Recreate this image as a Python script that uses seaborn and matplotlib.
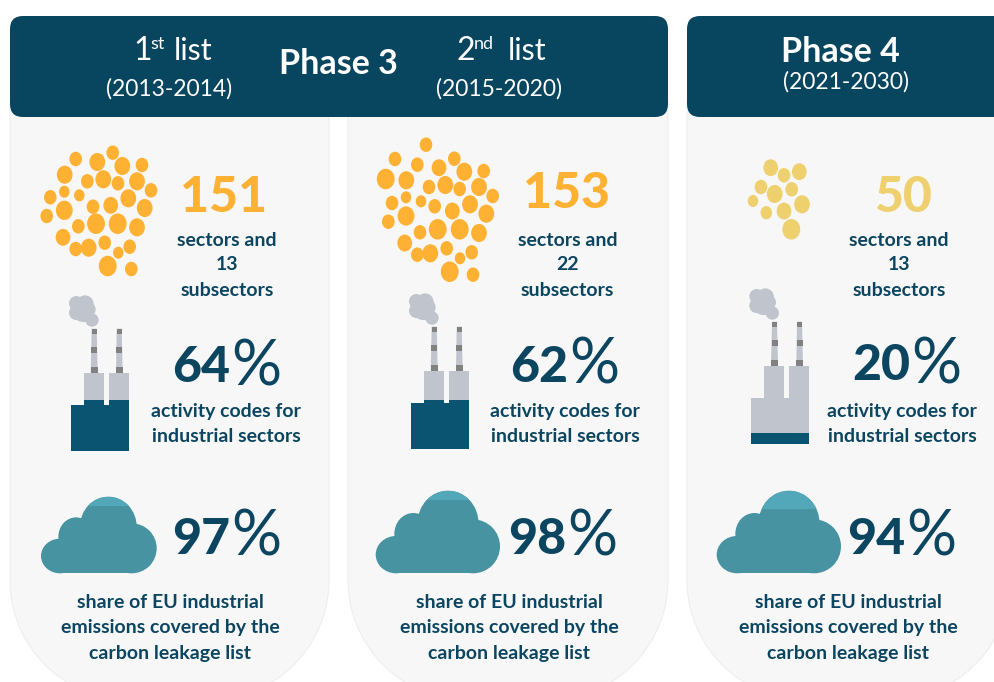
import numpy as np
import pandas as pd
import matplotlib
matplotlib.use("Agg")
import matplotlib.pyplot as plt
import seaborn as sns
from matplotlib.patches import Ellipse, FancyBboxPatch, Polygon, Rectangle
from matplotlib.path import Path
from matplotlib.transforms import Affine2D

# values shown in the three columns
sector_counts = ["151", "153", "50"]
subsector_counts = ["13", "22", "13"]
activity_shares = ["64", "62", "20"]
emission_shares = ["97", "98", "94"]

# how far the icons are filled (fraction of icon height from the bottom / top)
factory_fill = [0.65, 0.63, 0.14]
cloud_light = [0.122, 0.113, 0.226]

# bubble clusters: x, y, width
bubbles_1 = [
    (112.7, 152.7, 12), (75.7, 159, 12), (97.3, 162, 15), (122.3, 166, 15), (142, 165, 12),
    (64.7, 174.7, 15), (87.3, 181.3, 12), (103.3, 179.3, 15), (118, 183.3, 12), (137, 181.3, 15),
    (151, 190.3, 12), (50.3, 197.3, 12), (64.3, 191.7, 10), (79.3, 195.3, 10), (128.3, 198.3, 15),
    (93, 206.7, 12), (110.7, 205.3, 14), (144.7, 208, 15), (64.3, 210.3, 16), (46.7, 216, 12),
    (78.3, 226.3, 12), (96, 223.7, 17), (117.7, 223.7, 17), (137, 227.3, 15), (63, 237.3, 14),
    (75.7, 249, 12), (88.7, 247.7, 15), (104.7, 242.7, 12), (129.7, 246.7, 12), (118.3, 252.7, 10),
    (107.7, 266, 17), (131.3, 269, 12),
]
bubbles_2 = [
    (426, 144.7, 12), (395, 159, 12), (454.3, 158.7, 12), (417.3, 164.7, 12), (439, 167.7, 14),
    (464.3, 171.7, 15), (483.7, 171, 12), (385.7, 179, 17), (406.3, 180.3, 15), (429, 187, 12),
    (445.3, 185, 15), (459.7, 189, 12), (479, 187, 15), (492.7, 196, 12), (392, 203, 12),
    (406, 197.3, 10), (421, 201.3, 10), (470, 204.3, 15), (434.7, 206.3, 12), (452.3, 211, 14),
    (486.3, 213.7, 15), (406, 216, 16), (388.3, 221.7, 12), (420, 232.3, 12), (437.7, 229.3, 17),
    (459.7, 229.3, 17), (479, 233, 15), (404.7, 243, 14), (417.3, 254.7, 12), (430.3, 253.3, 15),
    (446.7, 248.3, 12), (471.7, 252.3, 12), (460, 258.3, 10), (449.7, 271.7, 17), (473, 274.7, 12),
]
bubbles_3 = [
    (770.7, 167.7, 14), (784, 175.3, 12), (799.3, 171.7, 14), (761, 187, 12), (774.7, 194, 15),
    (791.7, 189.3, 12), (753, 201, 10), (802, 204.3, 15), (766.3, 212.7, 11), (784, 211, 14),
    (791.3, 229.3, 17),
]

NAVY = "#08465f"
TEXT = "#0c4560"
STEEL = "#0a5472"
GREY = "#c0c4cc"
BAND = "#818181"
ORANGE = "#ffb133"
YELLOW = "#efd06f"
CLOUD = "#4793a2"
CLOUD_TOP = "#52a8b8"
CARD = "#f7f7f8"
FONT = "Lato"

sns.set_theme(style="white")
plt.rcParams["font.family"] = [FONT, "DejaVu Sans"]

fig, ax = plt.subplots(figsize=(9.94, 6.82), dpi=100)
fig.subplots_adjust(0, 0, 1, 1)
ax.set_xlim(0, 994)
ax.set_ylim(682, 0)


def card(x0, x1):
    """Pale column with big round bottom corners."""
    r = 120
    bottom = 700
    t = np.linspace(0, np.pi / 2, 40)
    left = np.column_stack([x0 + r - r * np.cos(t), bottom - r + r * np.sin(t)])
    right = np.column_stack([x1 - r + r * np.sin(t), bottom - r + r * np.cos(t)])
    pts = np.vstack([[[x0, 100]], left, right, [[x1, 100]]])
    ax.add_patch(Polygon(pts, closed=True, fc=CARD, ec="#eeeeee", lw=0.8, zorder=1))


def header(x0, x1):
    ax.add_patch(FancyBboxPatch((x0 + 13, 29), x1 - x0 - 26, 75,
                                boxstyle="round,pad=13,rounding_size=13",
                                fc=NAVY, ec="none", zorder=2))


def factory(x0, top, fill):
    """Factory icon, x0 is the left of the body and top the top of the blocks."""
    for xt0, xt1, xb0, xb1 in [(20.7, 25.7, 19.7, 26.7), (45.7, 50.7, 45, 51.7)]:
        ax.add_patch(Polygon([(x0 + xt0, top - 44), (x0 + xt1, top - 44), (x0 + xb1, top), (x0 + xb0, top)],
                             fc=GREY, ec="none", zorder=3))
        for y0, y1, grow in [(-44, -38.7, 0.0), (-26, -19.3, 0.5), (-6, 0, 1.0)]:
            ax.add_patch(Rectangle((x0 + xt0 - grow, top + y0), xt1 - xt0 + 2 * grow, y1 - y0,
                                   fc=BAND, ec="none", zorder=4))
    outline = [(0, 32.3), (13, 32.3), (13, 0), (33, 0), (33, 32.3), (38, 32.3),
               (38, 0), (58, 0), (58, 78), (0, 78)]
    body = Polygon([(x0 + a, top + b) for a, b in outline], fc=GREY, ec="none", zorder=3)
    ax.add_patch(body)
    level = Rectangle((x0, top + 78 * (1 - fill)), 58, 78 * fill, fc=STEEL, ec="none", zorder=4)
    ax.add_patch(level)
    level.set_clip_path(body)
    # smoke
    for sx, sy, r in [(229, 70, 22), (255, 72, 26), (229, 98, 22), (250, 92, 34), (276, 120, 20), (265, 88, 22)]:
        ax.add_patch(Ellipse((x0 + (sx - 213) / 3, top + (sy - 278) / 3), 2 * r / 3, 2 * r / 3,
                             fc=GREY, ec="none", zorder=3))


def cloud(x0, y0, w, h, light):
    lobes = [(0.164, 0.774, 0.164, 0.226), (0.303, 0.522, 0.153, 0.252),
             (0.582, 0.391, 0.245, 0.391), (0.784, 0.674, 0.216, 0.326)]
    for cx, cy, rx, ry in lobes:
        ax.add_patch(Ellipse((x0 + cx * w, y0 + cy * h), 2 * rx * w, 2 * ry * h, fc=CLOUD, ec="none", zorder=3))
    ax.add_patch(Rectangle((x0 + 0.164 * w, y0 + 0.565 * h), 0.62 * w, 0.435 * h, fc=CLOUD, ec="none", zorder=3))
    cx, cy, rx, ry = lobes[2]
    dome = Ellipse((x0 + cx * w, y0 + cy * h), 2 * rx * w, 2 * ry * h, fc=CLOUD_TOP, ec="none", zorder=4)
    ax.add_patch(dome)
    dome.set_clip_path(Rectangle((x0, y0), w, light * h, transform=ax.transData))


def bubbles(points, color):
    df = pd.DataFrame(points, columns=["x", "y", "d"])
    marker = Path.unit_circle().transformed(Affine2D().scale(1, 1.15))
    sns.scatterplot(data=df, x="x", y="y", s=(df["d"] * 1.05 * 1.15 * 0.72) ** 2, marker=marker,
                    color=color, linewidth=0, legend=False, ax=ax, zorder=5)


def label(x, y, s, size, color=TEXT, weight="bold", ha="center"):
    ax.text(x, y, s, fontsize=size, color=color, fontweight=weight, ha=ha, va="center", zorder=6)


card(10, 329)
card(348, 668)
card(687, 1010)
header(10, 668)
header(687, 1020)

# header text
label(133, 51, "1", 23, "white", "normal", "left")
label(150, 44, "st", 13, "white", "normal", "left")
label(174, 51, "list", 22, "white", "normal", "left")
label(169, 89, "(2013-2014)", 16.5, "white", "normal")
label(338, 64, "Phase 3", 24.5, "white")
label(456, 51, "2", 23, "white", "normal", "left")
label(474, 44, "nd", 13, "white", "normal", "left")
label(508, 51, "list", 22, "white", "normal", "left")
label(499, 89, "(2015-2020)", 16.5, "white", "normal")
label(840, 52, "Phase 4", 24.5, "white")
label(846.5, 82, "(2021-2030)", 16.5, "white", "normal")

# top row, sectors
bubbles(bubbles_1, ORANGE)
bubbles(bubbles_2, ORANGE)
bubbles(bubbles_3, YELLOW)
count_x = [224, 566, 903]
count_y = [197, 193, 197]
count_colors = [ORANGE, ORANGE, YELLOW]
text_x = [227, 567.5, 899]
for i in range(3):
    label(count_x[i], count_y[i], sector_counts[i], 36, count_colors[i], weight=900)
    label(text_x[i], 240, "sectors and", 14)
    label(text_x[i], 265, subsector_counts[i], 14)
    label(text_x[i], 291, "subsectors", 14)

# middle row, activity codes
factory_x = [71, 411, 751.3]
factory_top = [372.7, 370.7, 365.7]
for i in range(3):
    factory(factory_x[i], factory_top[i], factory_fill[i])
pct_x = [230, 568, 910]
pct_y = [368, 367, 366]
activity_x = [226, 565, 902]
for i in range(3):
    label(pct_x[i], pct_y[i], activity_shares[i], 36, ha="right", weight=900)
    label(pct_x[i] + 1, pct_y[i] - 1, "%", 45, weight="normal", ha="left")
    label(activity_x[i], 411, "activity codes for", 14)
    label(activity_x[i], 436, "industrial sectors", 14)

# bottom row, emissions
cloud_box = [(41, 496.7, 115.7, 76.6), (375.7, 490.7, 124.3, 82.6), (716.7, 490.7, 124.3, 82.6)]
for i in range(3):
    cloud(*cloud_box[i], cloud_light[i])
share_x = [230, 566, 905]
share_text_x = [170, 509, 848]
for i in range(3):
    label(share_x[i], 539, emission_shares[i], 36, ha="right", weight=900)
    label(share_x[i] + 1, 538, "%", 45, weight="normal", ha="left")
    label(share_text_x[i], 602, "share of EU industrial", 14)
    label(share_text_x[i], 628, "emissions covered by the", 14)
    label(share_text_x[i], 653, "carbon leakage list", 14)

ax.set_xlim(0, 994)
ax.set_ylim(682, 0)
ax.set_axis_off()
fig.savefig("out.png", dpi=100, facecolor="white")
